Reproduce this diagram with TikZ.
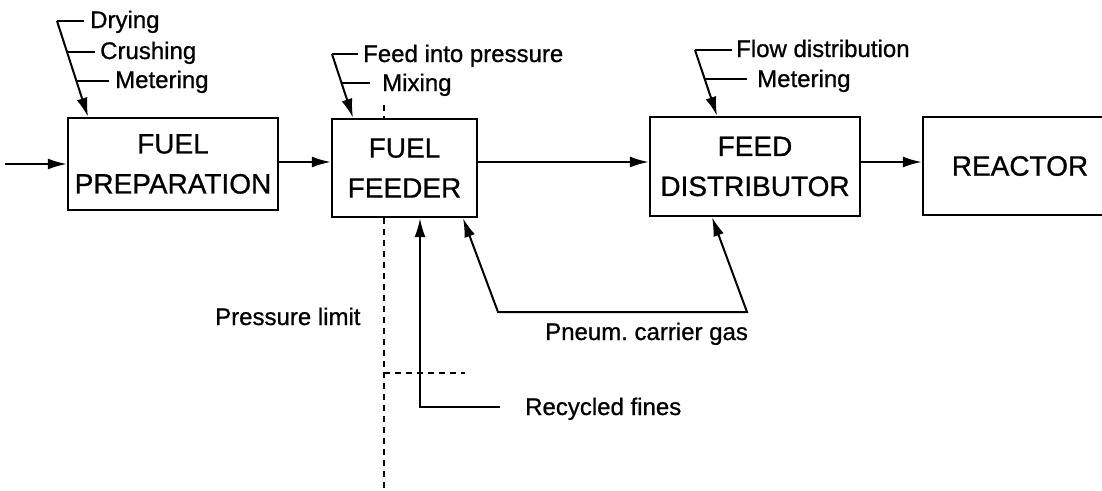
\documentclass[tikz,border=0pt]{standalone}
\usepackage{fontspec}
\setmainfont{Liberation Sans}
\newfontfamily\heavyfont[FakeBold=0.8]{Liberation Sans}
\usetikzlibrary{arrows.meta,calc}
\tikzset{
  box/.style={draw, line width=2.4pt, inner sep=0pt, align=center,
    font=\heavyfont\fontsize{28}{40}\selectfont},
  lbl/.style={anchor=base west, inner sep=0pt, font=\heavyfont\fontsize{24}{28}\selectfont},
  ln/.style={line width=2pt},
  arr/.style={line width=2pt, -{Latex[length=19pt,width=11pt]}},
  limit/.style={line width=2pt, dash pattern=on 6pt off 5pt}
}
\begin{document}
\frenchspacing
\begin{tikzpicture}[x=1pt,y=-1pt]
\useasboundingbox (0,0) rectangle (1102,490);
\clip (0,0) rectangle (1102,490);
% boxes
\node[box, minimum width=210pt, minimum height=92pt] (prep) at (173,164) {FUEL\\PREPARATION};
\node[box, minimum width=145pt, minimum height=98pt] (feed) at (404.5,168) {FUEL\\FEEDER};
\node[box, minimum width=210pt, minimum height=99pt] (dist) at (755,166.5) {FEED\\DISTRIBUTOR};
\node[box, minimum width=194pt, minimum height=98pt, text width=194pt] (reac) at (1020,166) {REACTOR};
% main flow
\coordinate (in) at (5,164);
\coordinate (m) at (0,162);
\draw[arr] (in) -- (in -| prep.west);
\draw[arr] (prep.east |- m) -- (m -| feed.west);
\draw[arr] (feed.east |- m) -- (m -| dist.west);
\draw[arr] (dist.east |- m) -- (m -| reac.west);
% fuel preparation labels
\node[lbl] (dry) at (90,28) {Drying};
\node[lbl] (cru) at (100,59) {Crushing};
\node[lbl] (met1) at (115,88) {Metering};
\coordinate (d0) at (57,21);
\draw[ln] (dry.west |- d0) ++(-6,0) -- (d0);
\draw[arr] (d0) -- (prep.north west -| 88,0);
\draw[ln] (67,52) -- (95,52);
\draw[ln] (76,81) -- (109,81);
% fuel feeder labels
\node[lbl] (fip) at (363,62) {Feed into pressure};
\node[lbl] (mix) at (382,91) {Mixing};
\coordinate (f0) at (332,54);
\draw[ln] (358,54) -- (f0);
\draw[arr] (f0) -- (feed.north -| 353,0);
\draw[ln] (341,83) -- (370,83);
% distributor labels
\node[lbl] (flow) at (736,57) {Flow distribution};
\node[lbl] (met2) at (757,87) {Metering};
\coordinate (g0) at (695,50);
\draw[ln] (732,50) -- (g0);
\draw[arr] (g0) -- (dist.north -| 717,0);
\draw[ln] (705,79) -- (747,79);
% pressure limit
\node[lbl] (plim) at (215,325) {Pressure limit};
\draw[limit] (384,105) -- (feed.north -| 384,0);
\draw[limit] (feed.south -| 384,0) -- (384,488);
\draw[limit] (384,373) -- (465,373);
% recycled fines
\node[lbl] (rec) at (525,415) {Recycled fines};
\coordinate (r1) at (500,407);
\coordinate (r2) at (420,407);
\draw[arr] (r1) -- (r2) -- (r2 |- feed.south);
% pneumatic carrier gas
\node[lbl] (pn) at (545,340) {Pneum. carrier gas};
\coordinate (p1) at (498,312);
\coordinate (p2) at (747,312);
\draw[line width=2pt, {Latex[length=19pt,width=11pt]}-{Latex[length=19pt,width=11pt]}]
  (feed.south -| 463,0) -- (p1) -- (p2) -- (dist.south -| 712,0);
\end{tikzpicture}
\end{document}
